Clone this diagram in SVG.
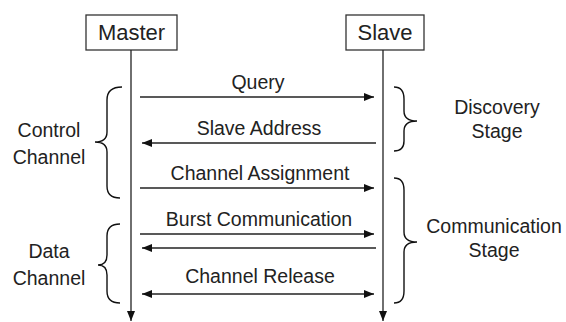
<svg xmlns="http://www.w3.org/2000/svg" width="566" height="322" viewBox="0 0 566 322">
<style>
.box{fill:#fff;stroke:#333;stroke-width:1.3}
.ln{stroke:#222;stroke-width:1.3;fill:none}
.br{stroke:#111;stroke-width:1.4;fill:none}
text{font-family:"Liberation Sans",Arial,sans-serif;fill:#222;text-anchor:middle}
.t1{font-size:22px}
.t2{font-size:19.5px}
</style>
<defs>
<marker id="ah" viewBox="0 0 10 8" refX="10" refY="4" markerWidth="10" markerHeight="8" markerUnits="userSpaceOnUse" orient="auto-start-reverse">
<path d="M0,0 L10,4 L0,8 z" fill="#111"/>
</marker>
</defs>
<g id="master">
<rect class="box" x="86" y="15" width="91" height="35"/>
<text class="t1" x="131.5" y="40">Master</text>
</g>
<g id="slave">
<rect class="box" x="346" y="15" width="78" height="35"/>
<text class="t1" x="385" y="40">Slave</text>
</g>
<g id="connectors">
<line class="ln" x1="131" y1="50" x2="131" y2="321" marker-end="url(#ah)"/>
<line class="ln" x1="383" y1="50" x2="383" y2="321" marker-end="url(#ah)"/>
<line class="ln" x1="140" y1="97" x2="374" y2="97" marker-end="url(#ah)"/>
<line class="ln" x1="376" y1="143" x2="142" y2="143" marker-end="url(#ah)"/>
<line class="ln" x1="140" y1="188" x2="374" y2="188" marker-end="url(#ah)"/>
<line class="ln" x1="140" y1="234" x2="374" y2="234" marker-end="url(#ah)"/>
<line class="ln" x1="376" y1="248" x2="142" y2="248" marker-end="url(#ah)"/>
<line class="ln" x1="142" y1="294" x2="374" y2="294" marker-start="url(#ah)" marker-end="url(#ah)"/>
</g>
<g id="labels">
<text class="t2" x="258" y="89">Query</text>
<text class="t2" x="259" y="135">Slave Address</text>
<text class="t2" x="260" y="180">Channel Assignment</text>
<text class="t2" x="259" y="226">Burst Communication</text>
<text class="t2" x="260" y="283">Channel Release</text>
</g>
<g id="control-channel">
<path class="br" d="M122,87 Q107,87 107,100 L107,132 Q107,142 95,142 Q107,142 107,152 L107,186 Q107,198 120,198"/>
<text class="t2" x="49" y="137">Control</text>
<text class="t2" x="49" y="164">Channel</text>
</g>
<g id="data-channel">
<path class="br" d="M120,224 Q107,224 107,236 L107,255 Q107,265 98,265 Q107,265 107,275 L107,291 Q107,303 120,303"/>
<text class="t2" x="49" y="258">Data</text>
<text class="t2" x="49" y="285">Channel</text>
</g>
<g id="discovery-stage">
<path class="br" d="M394,87 Q404,87 404,99 L404,111 Q404,121 417,121 Q404,121 404,131 L404,141 Q404,151 394,151"/>
<text class="t2" x="497" y="114">Discovery</text>
<text class="t2" x="497" y="138">Stage</text>
</g>
<g id="communication-stage">
<path class="br" d="M394,178 Q404,178 404,190 L404,232 Q404,242 417,242 Q404,242 404,252 L404,291 Q404,303 394,303"/>
<text class="t2" x="494" y="233">Communication</text>
<text class="t2" x="494" y="257">Stage</text>
</g>
</svg>
